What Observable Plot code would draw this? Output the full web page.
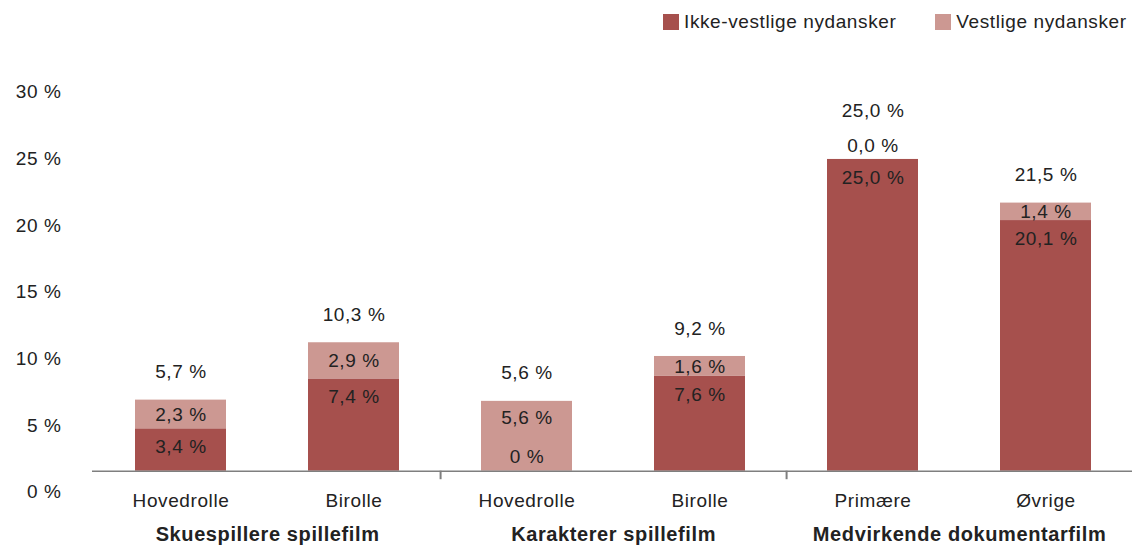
<!DOCTYPE html>
<html><head><meta charset="utf-8">
<script src="https://cdn.jsdelivr.net/npm/d3@7"></script>
<script src="https://cdn.jsdelivr.net/npm/@observablehq/plot@0.6"></script>
<style>
body{margin:0;background:#fff;font-family:"Liberation Sans",Arial,Helvetica,sans-serif;color:#222;}
#wrap{position:relative;width:1132px;height:549px;overflow:hidden;}
#legend{position:absolute;left:663px;top:0;width:469px;height:44px;display:flex;align-items:center;}
#chart{position:absolute;left:0;top:44px;width:1132px;}
#yaxis{position:absolute;left:0;top:0;width:70px;}
svg text{letter-spacing:0.6px;}
.lg-swatches{margin:0 !important;font-size:19px !important;font-family:"Liberation Sans",Arial,sans-serif !important;color:#222;letter-spacing:0.6px;white-space:nowrap;}
.lg-swatches-wrap{flex-wrap:nowrap !important;min-height:0 !important;}
.lg-swatch{margin-right:39px !important;}
.lg-swatch:last-child{margin-right:0 !important;}
.lg-swatch > svg{margin-right:5px !important;}
</style></head><body>
<div id="wrap"><div id="legend"></div><div id="chart"></div><div id="yaxis"></div></div>
<script>
const groups = ["Skuespillere spillefilm","Skuespillere spillefilm","Karakterer spillefilm","Karakterer spillefilm","Medvirkende dokumentarfilm","Medvirkende dokumentarfilm"];
const roles = ["Hovedrolle","Birolle","Hovedrolle","Birolle","Primære","Øvrige"];
const ikkeVestlige = [3.4, 7.4, 0, 7.6, 25.0, 20.1];
const vestlige = [2.3, 2.9, 5.6, 1.6, 0.0, 1.4];
const totals = [5.7, 10.3, 5.6, 9.2, 25.0, 21.5];
const ikkeLabels = ["3,4 %","7,4 %","0 %","7,6 %","25,0 %","20,1 %"];
const vestLabels = ["2,3 %","2,9 %","5,6 %","1,6 %","0,0 %","1,4 %"];
const totalLabels = ["5,7 %","10,3 %","5,6 %","9,2 %","25,0 %","21,5 %"];
const series = ["Ikke-vestlige nydansker","Vestlige nydansker"];
const colors = ["#a6504d","#cc9892"];
const yTicks = [0,5,10,15,20,25,30];

const keys = roles.map((r,i) => groups[i] + "|" + r);
const rows = [];
keys.forEach((k,i) => {
  rows.push({key:k, series:series[0], value:ikkeVestlige[i]});
  rows.push({key:k, series:series[1], value:vestlige[i]});
});
const idx = d3.range(keys.length);
const groupNames = Array.from(new Set(groups));
const firstKey = g => keys[groups.indexOf(g)];
const lastKey = g => keys[groups.lastIndexOf(g)];
const sepKeys = groupNames.slice(0,-1).map(lastKey);

const W = 1132, H = 505, mL = 93, mR = 0, mT = 52.6, mB = 78.3;
const step = (W - mL - mR) / keys.length;
const frameH = H - mT - mB;
const font = '"Liberation Sans", Arial, Helvetica, sans-serif';
const txt = {x: i => keys[i], fontSize: 19, fill: "#222"};

const chart = Plot.plot({
  width: W, height: H, marginLeft: mL, marginRight: mR, marginTop: mT, marginBottom: mB,
  style: {fontFamily: font, fontSize: "19px", color: "#222", background: "transparent"},
  x: {domain: keys, paddingInner: 0.475, paddingOuter: 0.2375},
  y: {domain: [0, 30], axis: null},
  color: {domain: series, range: colors},
  marks: [
    Plot.barY(rows, {x: "key", y: "value", fill: "series"}),
    Plot.ruleY([0], {stroke: "#7f7f7f", strokeWidth: 1.5, insetLeft: -1}),
    Plot.ruleX(sepKeys, {x: d => d, dx: step / 2, stroke: "#7f7f7f", strokeWidth: 2, insetTop: frameH - 8.5, dy: 8.5}),
    Plot.axisX({tickSize: 0, tickPadding: 22, tickFormat: k => k.split("|")[1], fontSize: 19, fill: "#222", label: null}),
    Plot.text(groupNames, {x: firstKey, dx: step / 2, frameAnchor: "bottom", lineAnchor: "middle", dy: 63.3, text: d => d, fontSize: 20, fontWeight: "bold", fill: "#222"}),
    // totals
    Plot.text(idx.filter(i => vestlige[i] > 0), {...txt, y: i => totals[i], text: i => totalLabels[i], dy: -28}),
    Plot.text(idx.filter(i => vestlige[i] === 0), {...txt, y: i => totals[i], text: i => totalLabels[i], dy: -49}),
    // vestlige
    Plot.text(idx.filter(i => vestlige[i] > 0 && ikkeVestlige[i] > 0), {...txt, y: i => ikkeVestlige[i] + vestlige[i] / 2, text: i => vestLabels[i]}),
    Plot.text(idx.filter(i => ikkeVestlige[i] === 0), {...txt, y: i => totals[i], text: i => vestLabels[i], dy: 17}),
    Plot.text(idx.filter(i => vestlige[i] === 0), {...txt, y: i => totals[i], text: i => vestLabels[i], dy: -14}),
    // ikke-vestlige
    Plot.text(idx.filter(i => ikkeVestlige[i] > 0), {...txt, y: i => ikkeVestlige[i], text: i => ikkeLabels[i], dy: 18}),
    Plot.text(idx.filter(i => ikkeVestlige[i] === 0), {...txt, y: 0, text: i => ikkeLabels[i], dy: -14})
  ]
});
document.getElementById("chart").appendChild(chart);

const yaxis = Plot.plot({
  width: 70, height: 549, marginLeft: 61, marginRight: 9, marginTop: 91.7, marginBottom: 57.3,
  style: {fontFamily: font, fontSize: "19px", color: "#222", background: "transparent"},
  y: {domain: [0, 30]},
  marks: [
    Plot.axisY({ticks: yTicks, tickSize: 0, tickPadding: 0, tickFormat: d => d + " %", fontSize: 19, fill: "#222", label: null})
  ]
});
document.getElementById("yaxis").appendChild(yaxis);

const legend = Plot.legend({
  color: {domain: series, range: colors},
  swatchSize: 16,
  className: "lg"
});
document.getElementById("legend").appendChild(legend);
</script>
</body></html>
